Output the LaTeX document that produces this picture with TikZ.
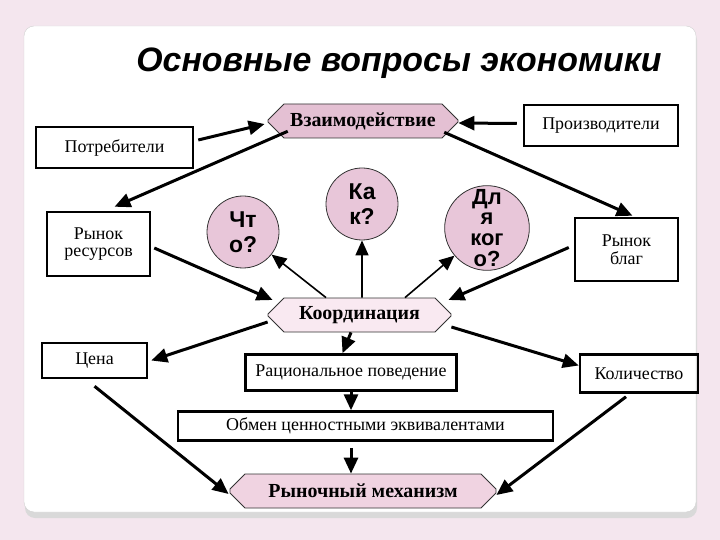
\documentclass[tikz,border=0pt]{standalone}
\usepackage{fontspec}
\setmainfont{Liberation Serif}
\newfontfamily\headfont{Liberation Sans}
\usetikzlibrary{arrows.meta,shapes.misc}
\definecolor{bgpink}{HTML}{F4E6EE}
\definecolor{hubpink}{HTML}{E4C0D3}
\definecolor{askpink}{HTML}{E8C6D9}
\definecolor{palepink}{HTML}{F9E9F1}
\definecolor{mechpink}{HTML}{F0D3E1}

\begin{document}
\begin{tikzpicture}[x=1bp,y=-1bp]
\tikzstyle{every node}+=[inner sep=0pt, align=center]
\tikzstyle{box}=[draw, line width=2.5bp, font=\fontsize{18}{17.5}\selectfont]
\tikzstyle{hub}=[chamfered rectangle, chamfered rectangle sep=8bp, draw=black!80, line width=0.8bp, font=\bfseries\fontsize{20}{20}\selectfont]
\tikzstyle{ask}=[circle, draw=black!80, line width=0.8bp, fill=askpink, minimum size=72bp, font=\headfont\bfseries\fontsize{23}{25}\selectfont]
\tikzstyle{link}=[line width=3bp, -{Triangle[length=16bp,width=14bp]}]
\tikzstyle{dbl}=[double=black!35, double distance=1.6bp, line width=1.6bp, -{Triangle[length=15bp,width=13bp]}]

% slide
\useasboundingbox (0,0) rectangle (720,540);
\fill[bgpink] (0,0) rectangle (720,540);
\fill[black!15, rounded corners=10bp] (25,30) rectangle (697,518);
\filldraw[white, draw=black!18, rounded corners=10bp] (24,26) rectangle (696,512);

\node (title) at (399,63) {\headfont\bfseries\itshape\fontsize{34}{36}\selectfont Основные вопросы экономики};

% top row
\node (vz) [hub, fill=hubpink, minimum width=190bp, minimum height=34bp] at (363,121) {Взаимодействие};
\node (potr) [box, minimum width=157bp, minimum height=41bp] at (114.5,147.5) {Потребители};
\node (proizv) [box, minimum width=154bp, minimum height=41bp] at (601,125.5) {Производители};
\node (rres) [box, minimum width=103bp, minimum height=64bp] at (98.5,244) {Рынок\\ресурсов};
\node (rblag) [box, minimum width=103bp, minimum height=63bp] at (626.5,249.5) {Рынок\\благ};

% questions
\node (chto) [ask] at (243,232) {Чт\\о?};
\node (kak) [ask] at (362,204) {Ка\\к?};
\node (dlya) [ask, font=\headfont\bfseries\fontsize{22}{21}\selectfont] at (487,228) {Дл\\я\\ког\\о?};

% middle and bottom
\node (koord) [hub, fill=palepink, minimum width=183bp, minimum height=34bp] at (359.5,315) {Координация};
\node (cena) [box, minimum width=105bp, minimum height=35bp] at (94.5,360.5) {Цена};
\node (rac) [box, minimum width=211bp, minimum height=36bp] at (351,372.5) {Рациональное поведение};
\node (kol) [box, minimum width=118bp, minimum height=38bp] at (639,373.5) {Количество};
\node (obmen) [box, minimum width=375bp, minimum height=29bp] at (365.5,426) {Обмен ценностными эквивалентами};
\node (rynmeh) [hub, fill=mechpink, minimum width=266bp, minimum height=34bp] at (363,491) {Рыночный механизм};

\path[link]
  ([shift={(4,-7.5)}]potr.east) edge ([shift={(-3,3)}]vz.west)
  ([shift={(-6,-2)}]proizv.west) edge ([shift={(0,2)}]vz.east)
  ([shift={(12,1)}]vz.south west) edge ([shift={(16,-4)}]rres.north)
  ([shift={(-6,2)}]vz.south east) edge ([shift={(6,-1)}]rblag.north)
  ([shift={(3,4)}]rres.east) edge ([shift={(5,-15)}]koord.west)
  ([shift={(-5,-2)}]rblag.west) edge ([shift={(-3,-15)}]koord.east)
  ([shift={(0,7)}]koord.west) edge ([shift={(3,0)}]cena.east)
  ([shift={(0,12)}]koord.east) edge ([shift={(0,-8)}]kol.west)
  ([shift={(-8.5,0)}]koord.south) edge ([shift={(-8.5,0)}]rac.north)
  ([shift={(0,0)}]rac.south) edge ([shift={(-14.5,0)}]obmen.north)
  ([shift={(-14.5,6)}]obmen.south) edge ([shift={(-12,0)}]rynmeh.north)
  ([shift={(0,7)}]cena.south) edge ([shift={(-1,3)}]rynmeh.west)
  ([shift={(-13,3)}]kol.south) edge ([shift={(0,4)}]rynmeh.east)
;
\path[dbl]
  ([shift={(-33.5,0)}]koord.north) edge (chto)
  ([shift={(2.5,0)}]koord.north) edge (kak)
  ([shift={(45.5,0)}]koord.north) edge (dlya)
;
\end{tikzpicture}
\end{document}
